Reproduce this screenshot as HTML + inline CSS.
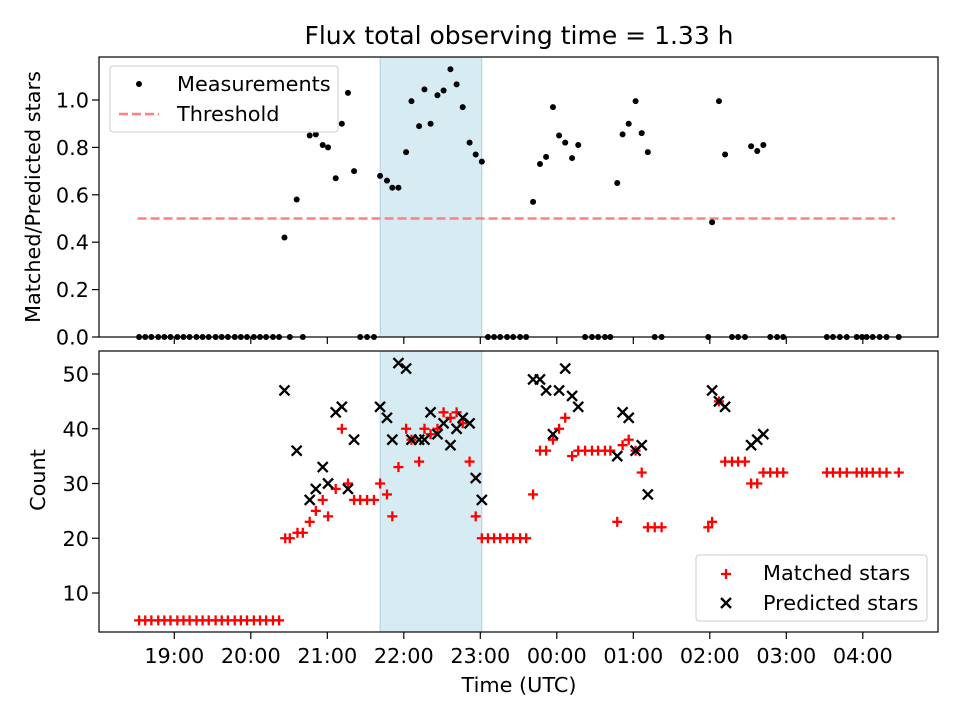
<!DOCTYPE html>
<html><head><meta charset="utf-8"><style>
body{margin:0;background:#fff}
svg text{font-family:"DejaVu Sans","Liberation Sans",sans-serif;fill:#000}
</style></head><body>
<svg id="chart" width="960" height="720" xmlns="http://www.w3.org/2000/svg"></svg>
<script>
// ----- data (time in hours UTC; >24 means next day) -----
const lowTimes = [18.54,18.62,18.70,18.79,18.87,18.95,19.04,19.12,19.20,19.29,19.37,19.45,19.54,19.62,19.70,19.79,19.87,19.95,20.04,20.12,20.20,20.29,20.37];
const ratioTimes = [20.44,20.60,20.77,20.85,20.94,21.01,21.11,21.19,21.27,21.35,21.69,21.78,21.85,21.93,22.03,22.10,22.20,22.27,22.35,22.44,22.52,22.61,22.69,22.77,22.86,22.94,23.02,
 23.69,23.78,23.86,23.95,24.03,24.11,24.20,24.28,24.79,24.86,24.94,25.03,25.11,25.19,26.03,26.12,26.20,26.54,26.62,26.70];
const ratioValues = [0.42,0.58,0.85,0.855,0.81,0.80,0.67,0.90,1.03,0.70,0.68,0.66,0.63,0.63,0.78,0.995,0.89,1.045,0.90,1.02,1.04,1.13,1.066,0.97,0.82,0.77,0.74,
 0.57,0.73,0.76,0.97,0.85,0.82,0.755,0.81,0.65,0.855,0.90,0.995,0.86,0.78,0.484,0.995,0.77,0.805,0.785,0.81];
const zeroTimes = [20.51,20.68,21.43,21.52,21.61,23.10,23.18,23.26,23.35,23.43,23.52,23.60,
 24.37,24.46,24.54,24.63,24.70,25.28,25.37,25.98,26.29,26.37,26.46,26.79,26.88,26.96,
 27.53,27.61,27.70,27.79,27.92,27.99,28.05,28.13,28.22,28.31,28.47];
const matchedTimes = [20.45,20.51,20.61,20.68,20.77,20.85,20.94,21.01,21.11,21.19,21.27,21.35,21.43,21.52,21.61,21.69,21.78,21.85,21.93,22.03,22.10,22.20,22.27,22.35,22.44,22.52,22.61,22.69,22.77,22.86,22.94,
 23.02,23.10,23.18,23.26,23.35,23.43,23.52,23.60,23.69,23.78,23.86,23.95,24.03,24.11,24.20,24.28,24.37,24.46,24.54,24.63,24.70,24.79,24.86,24.94,25.03,25.11,25.19,25.28,25.37,
 25.98,26.03,26.12,26.20,26.29,26.37,26.46,26.54,26.62,26.70,26.79,26.88,26.96,
 27.53,27.61,27.70,27.79,27.92,27.99,28.05,28.13,28.22,28.31,28.47];
const matchedValues = [20,20,21,21,23,25,27,24,29,40,30,27,27,27,27,30,28,24,33,40,38,34,40,39,40,43,42,43,41,34,24,
 20,20,20,20,20,20,20,20,28,36,36,38,40,42,35,36,36,36,36,36,36,23,37,38,36,32,22,22,22,
 22,23,45,34,34,34,34,30,30,32,32,32,32,
 32,32,32,32,32,32,32,32,32,32,32];
const lowMatchedValue = 5;
const predTimes = [20.44,20.60,20.77,20.85,20.94,21.01,21.11,21.19,21.27,21.35,21.69,21.78,21.85,21.93,22.03,22.10,22.20,22.27,22.35,22.44,22.52,22.61,22.69,22.77,22.86,22.94,23.02,
 23.69,23.78,23.86,23.95,24.03,24.11,24.20,24.28,24.79,24.86,24.94,25.03,25.11,25.19,26.03,26.12,26.20,26.54,26.62,26.70];
const predValues = [47,36,27,29,33,30,43,44,29,38,44,42,38,52,51,38,38,38,43,39,41,37,40,42,41,31,27,
 49,49,47,39,47,51,46,44,35,43,42,36,37,28,47,45,44,37,38,39];
const xTickHours = [19,20,21,22,23,24,25,26,27,28];
const xTickLabels = ["19:00","20:00","21:00","22:00","23:00","00:00","01:00","02:00","03:00","04:00"];
const topTicks = [0,0.2,0.4,0.6,0.8,1.0];
const botTicks = [10,20,30,40,50];
const shadeStart = 21.69, shadeEnd = 23.02;
const threshold = 0.5, thrStart = 18.52, thrEnd = 28.42;

// ----- scales -----
const L=99,R=938;
const FS=20.8;
const xs = t => 174.3 + (t-19)*76.5;
const T={top:57,bot:337}, B={top:351,bot:632};
const yt = v => 337 - v*237;
const yb = v => 647.75 - v*5.475;
const svg=document.getElementById('chart');
const NS='http://www.w3.org/2000/svg';
function mk(tag,attrs,parent){const e=document.createElementNS(NS,tag);for(const k in attrs)e.setAttribute(k,attrs[k]);(parent||svg).appendChild(e);return e;}
function txt(s,x,y,size,anchor,parent){const e=mk('text',{x:x,y:y,'font-size':size,'text-anchor':anchor||'middle'},parent);e.textContent=s;return e;}

let e=txt('Flux total observing time = 1.33 h',519,44,25);



function axes(P,name){
  const g=mk('g',{});
  
  
  const s=mk('rect',{x:xs(shadeStart),y:P.top,width:xs(shadeEnd)-xs(shadeStart),height:P.bot-P.top,fill:'rgba(173,216,230,0.5)',stroke:'rgba(120,180,200,0.5)','stroke-width':1},g);
  
  
  return g;
}
function frame(P,g){
  mk('rect',{x:L,y:P.top,width:R-L,height:P.bot-P.top,fill:'none',stroke:'#000','stroke-width':1.2},g);
  xTickHours.forEach(h=>{mk('line',{x1:xs(h),x2:xs(h),y1:P.bot,y2:P.bot+7,stroke:'#000','stroke-width':1.2},g);});
}
const gt=axes(T,'ratio-axes');
const thr=mk('line',{x1:xs(thrStart),x2:xs(thrEnd),y1:yt(threshold),y2:yt(threshold),stroke:'#ff8080','stroke-width':2.4,'stroke-dasharray':'9,4'},gt);


function dot(t,v){const c=mk('circle',{cx:xs(t),cy:yt(v),r:3,fill:'#000'},gt);

}
lowTimes.forEach(t=>dot(t,0));
zeroTimes.forEach(t=>dot(t,0));
ratioTimes.forEach((t,i)=>dot(t,ratioValues[i]));
frame(T,gt);
topTicks.forEach(v=>{mk('line',{x1:L-7,x2:L,y1:yt(v),y2:yt(v),stroke:'#000','stroke-width':1.2},gt);
 const l=txt(v.toFixed(1),L-10,yt(v)+7.5,FS,'end',gt);
 
 });
e=txt('Matched/Predicted stars',0,0,FS,'middle');
e.setAttribute('transform','translate(40,197) rotate(-90)');


const lg=mk('g',{});


mk('rect',{x:110,y:66,width:228,height:66,rx:3,fill:'rgba(255,255,255,0.8)',stroke:'#ccc'},lg);
mk('circle',{cx:139,cy:84,r:3,fill:'#000'},lg);
txt('Measurements',177,91,FS,'start',lg);
mk('line',{x1:119,x2:159,y1:114,y2:114,stroke:'#ff8080','stroke-width':2.4,'stroke-dasharray':'9,4'},lg);
txt('Threshold',177,121,FS,'start',lg);

const gb=axes(B,'count-axes');
function plus(t,v){const g=mk('g',{stroke:'#f00','stroke-width':2.3},gb);


const x=xs(t),y=yb(v);mk('line',{x1:x-5,x2:x+5,y1:y,y2:y},g);mk('line',{x1:x,x2:x,y1:y-5,y2:y+5},g);}
function cross(t,v){const g=mk('g',{stroke:'#000','stroke-width':2.3},gb);


const x=xs(t),y=yb(v);mk('line',{x1:x-5,x2:x+5,y1:y-5,y2:y+5},g);mk('line',{x1:x-5,x2:x+5,y1:y+5,y2:y-5},g);}
lowTimes.forEach(t=>plus(t,lowMatchedValue));
matchedTimes.forEach((t,i)=>plus(t,matchedValues[i]));
predTimes.forEach((t,i)=>cross(t,predValues[i]));
frame(B,gb);
botTicks.forEach(v=>{mk('line',{x1:L-7,x2:L,y1:yb(v),y2:yb(v),stroke:'#000','stroke-width':1.2},gb);
 const l=txt(String(v),L-10,yb(v)+7.5,FS,'end',gb);
 
 });
xTickHours.forEach((h,i)=>{const l=txt(xTickLabels[i],xs(h),B.bot+31,FS,'middle',gb);
 
 });
e=txt('Count',0,0,FS,'middle');
e.setAttribute('transform','translate(45,480) rotate(-90)');


e=txt('Time (UTC)',519,692,FS,'middle');


const lb=mk('g',{});


mk('rect',{x:696,y:555,width:231,height:66,rx:3,fill:'rgba(255,255,255,0.8)',stroke:'#ccc'},lb);
let g1=mk('g',{stroke:'#f00','stroke-width':2.3},lb);mk('line',{x1:721,x2:731,y1:574,y2:574},g1);mk('line',{x1:726,x2:726,y1:569,y2:579},g1);
txt('Matched stars',763,580,FS,'start',lb);
let g2=mk('g',{stroke:'#000','stroke-width':2.3},lb);mk('line',{x1:721,x2:731,y1:598,y2:608},g2);mk('line',{x1:721,x2:731,y1:608,y2:598},g2);
txt('Predicted stars',763,610,FS,'start',lb);
</script>
</body></html>
